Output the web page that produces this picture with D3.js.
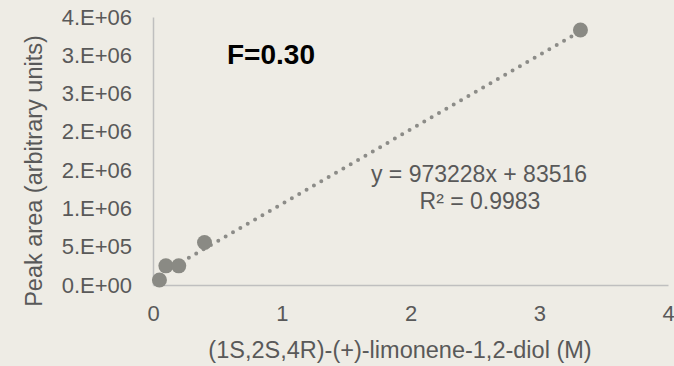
<!DOCTYPE html>
<html><head><meta charset="utf-8">
<script src="https://cdn.jsdelivr.net/npm/d3@7"></script>
<style>html,body{margin:0;padding:0;background:#eeece5;}svg{display:block;}</style>
</head><body>
<svg id="c" width="674" height="366"></svg>
<script>
const xValues = [0.05, 0.1, 0.2, 0.4, 3.32];
const yValues = [65000, 250000, 250000, 555000, 3330000];
const xTicks = [0, 1, 2, 3, 4];
const yTicks = [0, 500000, 1000000, 1500000, 2000000, 2500000, 3000000, 3500000];
const yTickLabels = ["0.E+00","5.E+05","1.E+06","2.E+06","2.E+06","3.E+06","3.E+06","4.E+06"];
const slope = 973228, intercept = 83516;
const eqText = "y = 973228x + 83516";
const r2Text = "R² = 0.9983";
const fText = "F=0.30";
const xTitle = "(1S,2S,4R)-(+)-limonene-1,2-diol (M)";
const yTitle = "Peak area (arbitrary units)";

const font = "'Liberation Sans', Arial, sans-serif";
const textCol = "#595959";
const svg = d3.select("#c");
svg.append("rect").attr("width",674).attr("height",366).attr("fill","#eeece5");

const x = d3.scaleLinear().domain([0,4]).range([153,668]);
const y = d3.scaleLinear().domain([0,3500000]).range([285,17]);

// axes
const yAxis = d3.axisLeft(y).tickValues(yTicks).tickSize(0).tickPadding(21)
  .tickFormat((d,i)=>yTickLabels[i]);
const gy = svg.append("g").attr("transform",`translate(${x(0)},0)`).call(yAxis);
gy.select(".domain").attr("stroke","#bfbfbf").attr("stroke-width",1.5);
gy.selectAll("text").attr("font-family",font).attr("font-size",22).attr("fill",textCol);

const xAxis = d3.axisBottom(x).tickValues(xTicks).tickSize(0).tickPadding(20).tickFormat(d3.format("d"));
const gx = svg.append("g").attr("transform",`translate(0,${y(0)})`).call(xAxis);
gx.select(".domain").attr("stroke","#bfbfbf").attr("stroke-width",1.5);
gx.selectAll("text").attr("font-family",font).attr("font-size",22).attr("fill",textCol);

// trendline
const xmin = d3.min(xValues), xmax = d3.max(xValues);
svg.append("line")
  .attr("x1",x(xmin)).attr("y1",y(slope*xmin+intercept))
  .attr("x2",x(xmax)).attr("y2",y(slope*xmax+intercept))
  .attr("stroke","#8c8c88").attr("stroke-width",4)
  .attr("stroke-linecap","round").attr("stroke-dasharray","0 8.5");

// points
svg.append("g").selectAll("circle").data(xValues).join("circle")
  .attr("cx",d=>x(d)).attr("cy",(d,i)=>y(yValues[i])).attr("r",7.5)
  .attr("fill","#8a8a84");

// texts
svg.append("text").attr("x",479).attr("y",182).attr("text-anchor","middle")
  .attr("font-family",font).attr("font-size",23).attr("fill",textCol).text(eqText);
svg.append("text").attr("x",480).attr("y",208.5).attr("text-anchor","middle")
  .attr("font-family",font).attr("font-size",23).attr("fill",textCol).text(r2Text);
svg.append("text").attr("x",227).attr("y",63.5).attr("text-anchor","start")
  .attr("font-family",font).attr("font-size",28).attr("font-weight","bold").attr("fill","#000").text(fText);

svg.append("text").attr("x",400).attr("y",358).attr("text-anchor","middle")
  .attr("font-family",font).attr("font-size",23.5).attr("fill",textCol).text(xTitle);
svg.append("text").attr("transform","translate(42,171) rotate(-90)").attr("text-anchor","middle")
  .attr("font-family",font).attr("font-size",23.5).attr("fill",textCol).text(yTitle);
</script>
</body></html>
